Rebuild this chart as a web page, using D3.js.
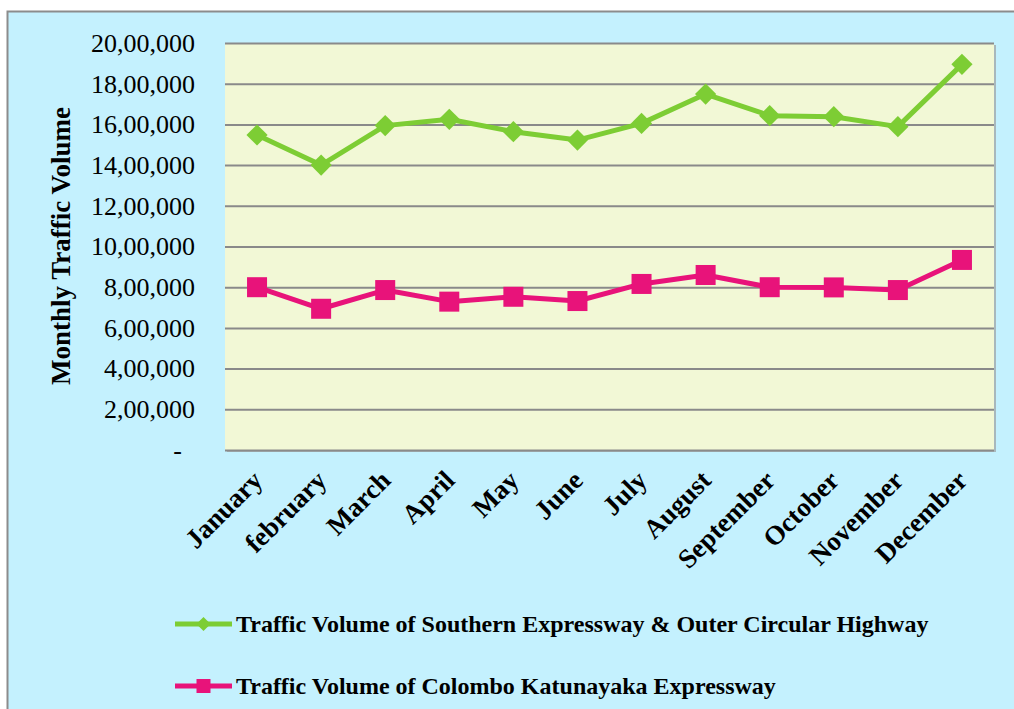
<!DOCTYPE html>
<html>
<head>
<meta charset="utf-8">
<script src="https://cdn.jsdelivr.net/npm/d3@7"></script>
<style>
  body { margin: 0; background: #fff; }
  svg { display: block; font-family: "Liberation Serif", "Times New Roman", serif; }
</style>
</head>
<body>
<div id="chart"></div>
<script>
'use strict';

let WIDTH = 1014;
let HEIGHT = 709;
let PLOT = { left: 225, right: 994, top: 43, bottom: 450 };

let months = ['January', 'february', 'March', 'April', 'May', 'June',
    'July', 'August', 'September', 'October', 'November', 'December'];

let southern = [1548000, 1400000, 1594000, 1625000, 1564000, 1523000,
    1605000, 1749000, 1643000, 1638000, 1589000, 1895000];

let katunayaka = [800000, 694000, 786000, 729000, 753000, 732000,
    816000, 860000, 800000, 799000, 786000, 934000];

let yTicks = [0, 200000, 400000, 600000, 800000, 1000000,
    1200000, 1400000, 1600000, 1800000, 2000000];

let SERIES = [
    { name: 'Traffic Volume of Southern Expressway & Outer Circular Highway', values: southern, color: '#7dcd34', marker: 'diamond' },
    { name: 'Traffic Volume of Colombo Katunayaka Expressway', values: katunayaka, color: '#e8137a', marker: 'square' },
];

// indian style grouping: 20,00,000
function formatIndian (v) {
    if (v === 0) return '-';
    let s = String(v);
    let last3 = s.slice(-3);
    let rest = s.slice(0, -3);
    if (rest) rest = rest.replace(/\B(?=(\d{2})+(?!\d))/g, ',') + ',';
    return rest + last3;
}

let svg = d3.select('#chart')
    .append('svg')
    .attr('width', WIDTH)
    .attr('height', HEIGHT);

// outer frame
svg.append('rect')
    .attr('x', 7.5)
    .attr('y', 11.5)
    .attr('width', WIDTH + 20)
    .attr('height', HEIGHT + 20)
    .attr('fill', '#c4f1fe')
    .attr('stroke', '#8c8c8c')
    .attr('stroke-width', 2);

// plot area + little shadow
svg.append('rect')
    .attr('x', PLOT.left + 2)
    .attr('y', PLOT.top + 2)
    .attr('width', PLOT.right - PLOT.left)
    .attr('height', PLOT.bottom - PLOT.top)
    .attr('fill', '#a8b8bc');

svg.append('rect')
    .attr('x', PLOT.left)
    .attr('y', PLOT.top)
    .attr('width', PLOT.right - PLOT.left)
    .attr('height', PLOT.bottom - PLOT.top)
    .attr('fill', '#f2f8d6');

let xScale = d3.scaleBand()
    .domain(months)
    .range([PLOT.left, PLOT.right]);

let yScale = d3.scaleLinear()
    .domain([0, 2000000])
    .range([PLOT.bottom, PLOT.top]);

let xMid = m => xScale(m) + xScale.bandwidth() / 2;

// gridlines
let grid = svg.append('g')
    .attr('transform', 'translate(' + PLOT.left + ', 0)')
    .call(d3.axisLeft(yScale).tickValues(yTicks).tickSize(-(PLOT.right - PLOT.left)).tickFormat(''));
grid.select('.domain').remove();
grid.selectAll('line')
    .attr('stroke', '#8a8a8a')
    .attr('stroke-width', 2);

// y axis labels
let yAxis = svg.append('g')
    .attr('transform', 'translate(195, 0)')
    .call(d3.axisLeft(yScale).tickValues(yTicks).tickSize(0).tickPadding(0).tickFormat(formatIndian));
yAxis.select('.domain').remove();
yAxis.selectAll('text')
    .attr('font-family', '"Liberation Serif", "Times New Roman", serif')
    .attr('font-size', 26)
    .attr('fill', '#000')
    .attr('dy', '0.32em')
    .attr('dx', d => d === 0 ? -13 : 0);

// x axis labels
let xAxis = svg.append('g')
    .attr('transform', 'translate(0, ' + PLOT.bottom + ')')
    .call(d3.axisBottom(xScale).tickSize(0).tickPadding(0));
xAxis.select('.domain').remove();
xAxis.selectAll('text')
    .attr('font-family', '"Liberation Serif", "Times New Roman", serif')
    .attr('font-size', 27)
    .attr('font-weight', 'bold')
    .attr('fill', '#000')
    .attr('text-anchor', 'end')
    .attr('dy', null)
    .attr('transform', 'translate(7, 32) rotate(-45)');

// y title
svg.append('text')
    .attr('transform', 'translate(70, 246) rotate(-90)')
    .attr('text-anchor', 'middle')
    .attr('font-size', 27)
    .attr('font-weight', 'bold')
    .text('Monthly Traffic Volume');

let line = d3.line()
    .x((d, i) => xMid(months[i]))
    .y(d => yScale(d));

function drawMarker (g, type, x, y, size, color) {
    if (type === 'diamond') {
        g.append('path')
            .attr('d', d3.symbol().type(d3.symbolSquare).size(size * size)())
            .attr('transform', 'translate(' + x + ',' + y + ') rotate(45)')
            .attr('fill', color);
    } else {
        g.append('rect')
            .attr('x', x - size / 2)
            .attr('y', y - size / 2)
            .attr('width', size)
            .attr('height', size)
            .attr('fill', color);
    }
}

SERIES.forEach(s => {
    let g = svg.append('g');
    g.append('path')
        .datum(s.values)
        .attr('d', line)
        .attr('fill', 'none')
        .attr('stroke', s.color)
        .attr('stroke-width', 5)
        .attr('stroke-linejoin', 'round');
    s.values.forEach((v, i) => {
        drawMarker(g, s.marker, xMid(months[i]), yScale(v), s.marker === 'diamond' ? 15 : 20, s.color);
    });
});

// legend
let legendY = [624, 686];
SERIES.forEach((s, i) => {
    let g = svg.append('g');
    g.append('line')
        .attr('x1', 175)
        .attr('x2', 232)
        .attr('y1', legendY[i])
        .attr('y2', legendY[i])
        .attr('stroke', s.color)
        .attr('stroke-width', 5);
    drawMarker(g, s.marker, 203.5, legendY[i], s.marker === 'diamond' ? 10 : 14, s.color);
    g.append('text')
        .attr('x', 236)
        .attr('y', legendY[i])
        .attr('dy', '0.35em')
        .attr('font-size', 24)
        .attr('font-weight', 'bold')
        .text(s.name);
});
</script>
</body>
</html>
